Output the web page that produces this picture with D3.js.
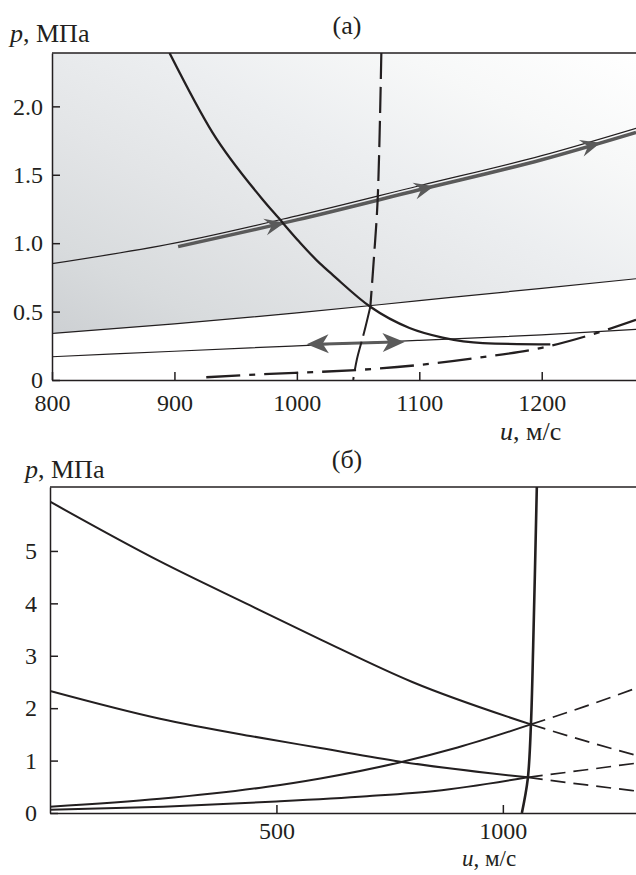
<!DOCTYPE html>
<html>
<head>
<meta charset="utf-8">
<script src="https://cdn.jsdelivr.net/npm/d3@7"></script>
<style>
body { margin: 0; background: #fff; }
svg text { font-family: "Liberation Serif", "Times New Roman", serif; fill: #231f20; font-size: 24px; }
svg text.lbl { font-size: 26px; }
svg text.lbl.small { font-size: 23px; }
</style>
</head>
<body>
<svg id="chart" width="636" height="875"></svg>
<script>
// ---- panel (a) ----
const ticksUa = [800, 900, 1000, 1100, 1200];
const ticksPa = [0, 0.5, 1.0, 1.5, 2.0];
const upperThin = [[800, 0.85], [900, 1.0], [1000, 1.2], [1100, 1.42], [1200, 1.64], [1277, 1.84]];
const grayTrack = [[903, 0.975], [1000, 1.17], [1100, 1.39], [1200, 1.61], [1277, 1.81]];
const grayArrows = [990, 1112, 1248];
const lowerBound = [[800, 0.34], [900, 0.41], [1000, 0.49], [1100, 0.58], [1200, 0.67], [1277, 0.74]];
const lowestThin = [[800, 0.17], [900, 0.21], [1000, 0.25], [1100, 0.29], [1200, 0.33], [1277, 0.37]];
const doubleArrow = [[1008, 0.262], [1088, 0.278]];
const shockCurve = [[896, 2.39], [931, 1.81], [972, 1.32], [985, 1.185], [1002, 1.01], [1019, 0.85],
                    [1029, 0.77], [1060, 0.535], [1092, 0.38], [1119, 0.31], [1152, 0.27], [1207, 0.26]];
const dashedUpper = [[1069, 2.39], [1066, 1.32], [1063, 0.9], [1060, 0.535]];
const dashedLower = [[1060, 0.535], [1055, 0.35], [1049, 0.15], [1046, 0]];
const dashDot = [[926, 0.02], [978, 0.045], [1020, 0.06], [1061, 0.08], [1100, 0.11], [1150, 0.165],
                 [1200, 0.235], [1240, 0.33], [1277, 0.44]];

// ---- panel (б) ----
const ticksUb = [500, 1000];
const ticksPb = [0, 1, 2, 3, 4, 5];
const curveA = [[0, 5.94], [243, 4.8], [442, 3.96], [600, 3.3], [800, 2.5], [1062, 1.69]];
const curveAext = [[1062, 1.69], [1180, 1.38], [1294, 1.1]];
const curveB = [[0, 2.33], [243, 1.8], [442, 1.47], [597, 1.24], [774, 0.98], [1055, 0.68]];
const curveBext = [[1055, 0.68], [1180, 0.54], [1294, 0.42]];
const curveC = [[0, 0.12], [243, 0.27], [480, 0.5], [597, 0.66], [774, 0.97], [900, 1.25], [1062, 1.69]];
const curveCext = [[1062, 1.69], [1180, 2.03], [1294, 2.38]];
const curveD = [[0, 0.06], [250, 0.12], [500, 0.22], [700, 0.32], [850, 0.42], [1055, 0.68]];
const curveDext = [[1055, 0.68], [1180, 0.82], [1294, 0.95]];
const vertCurve = [[1042, 0], [1055, 0.65], [1062, 1.69], [1067, 3.2], [1075, 6.22]];

const ink = '#231f20';
const grey = '#5a5a5a';
const svg = d3.select('#chart');
const defs = svg.append('defs');

const grad = defs.append('linearGradient')
    .attr('id', 'shade')
    .attr('gradientUnits', 'userSpaceOnUse')
    .attr('x1', -136).attr('y1', 268)
    .attr('x2', 109).attr('y2', -215);
[[0.05, '#cdd0d3'], [0.2, '#d8dbdd'], [0.4, '#e3e5e7'], [0.6, '#eceef0'], [0.8, '#f7f8f8'], [1, '#ffffff']]
    .forEach(s => grad.append('stop').attr('offset', s[0]).attr('stop-color', s[1]));

function clip(id, x0, y0, x1, y1) {
    defs.append('clipPath').attr('id', id)
        .append('rect').attr('x', x0).attr('y', y0).attr('width', x1 - x0).attr('height', y1 - y0);
}

function axes(g, x, y, tx, ty, fmtY, padX, padY) {
    const [x0, x1] = x.range();
    const [yb, yt] = y.range();
    const ax = g.append('g')
        .attr('transform', 'translate(0,' + yb + ')')
        .call(d3.axisBottom(x).tickValues(tx).tickSize(-8).tickSizeOuter(0).tickPadding(padX).tickFormat(d3.format('d')));
    const ay = g.append('g')
        .attr('transform', 'translate(' + x0 + ',0)')
        .call(d3.axisLeft(y).tickValues(ty).tickSize(-8).tickSizeOuter(0).tickPadding(padY).tickFormat(fmtY));
    [ax, ay].forEach(a => {
        a.attr('font-size', null).attr('font-family', null);
        a.selectAll('path, line').attr('stroke', ink).attr('stroke-width', 1.5);
    });
    g.append('line')
        .attr('x1', x0).attr('x2', x1).attr('y1', yt).attr('y2', yt)
        .attr('stroke', ink).attr('stroke-width', 1.5);
}

function arrowHead(g, px, py, angle, len, half, notch) {
    g.append('path')
        .attr('d', 'M0,0L' + (-len) + ',' + (-half) + 'L' + (-notch) + ',0L' + (-len) + ',' + half + 'Z')
        .attr('transform', 'translate(' + px + ',' + py + ') rotate(' + angle + ')')
        .attr('fill', grey);
}

// ===== panel (a) =====
const xa = d3.scaleLinear().domain([800, 1277]).range([52, 636]);
const ya = d3.scaleLinear().domain([0, 2.39]).range([380, 53]);
clip('clipA', 52, 53, 636, 380);

const lineA = d3.line().x(d => xa(d[0])).y(d => ya(d[1])).curve(d3.curveMonotoneX);
const lineAv = d3.line().x(d => xa(d[0])).y(d => ya(d[1])).curve(d3.curveCatmullRom);

const ga = svg.append('g').attr('clip-path', 'url(#clipA)');

ga.append('path')
    .datum(lowerBound)
    .attr('d', d3.area().x(d => xa(d[0])).y0(d => ya(d[1])).y1(ya(2.39)).curve(d3.curveMonotoneX))
    .attr('fill', 'url(#shade)');

[upperThin, lowerBound, lowestThin].forEach(s => {
    ga.append('path').datum(s).attr('d', lineA)
        .attr('fill', 'none').attr('stroke', ink).attr('stroke-width', 1.2);
});

// grey trajectory with arrows
ga.append('path').datum(grayTrack).attr('d', lineA)
    .attr('fill', 'none').attr('stroke', grey).attr('stroke-width', 3.5);
const trackP = d3.scaleLinear().domain(grayTrack.map(d => d[0])).range(grayTrack.map(d => d[1]));
grayArrows.forEach(u => {
    const a = [xa(u - 5), ya(trackP(u - 5))];
    const b = [xa(u + 5), ya(trackP(u + 5))];
    const ang = Math.atan2(b[1] - a[1], b[0] - a[0]) * 180 / Math.PI;
    arrowHead(ga, xa(u), ya(trackP(u)), ang, 20, 8.5, 13);
});

// double arrow
const da = doubleArrow.map(d => [xa(d[0]), ya(d[1])]);
const daAng = Math.atan2(da[1][1] - da[0][1], da[1][0] - da[0][0]) * 180 / Math.PI;
ga.append('line')
    .attr('x1', da[0][0] + 10).attr('y1', da[0][1]).attr('x2', da[1][0] - 10).attr('y2', da[1][1])
    .attr('stroke', grey).attr('stroke-width', 3);
arrowHead(ga, da[1][0], da[1][1], daAng, 22, 9.5, 16);
arrowHead(ga, da[0][0], da[0][1], daAng + 180, 22, 9.5, 16);

ga.append('path').datum(shockCurve).attr('d', lineA)
    .attr('fill', 'none').attr('stroke', ink).attr('stroke-width', 2.3);

ga.append('path').datum(dashedUpper).attr('d', lineAv)
    .attr('fill', 'none').attr('stroke', ink).attr('stroke-width', 2.2)
    .attr('stroke-dasharray', '26,8');
ga.append('path').datum(dashedLower).attr('d', lineAv)
    .attr('fill', 'none').attr('stroke', ink).attr('stroke-width', 2)
    .attr('stroke-dasharray', '30,6');

ga.append('path').datum(dashDot).attr('d', lineA)
    .attr('fill', 'none').attr('stroke', ink).attr('stroke-width', 2.3)
    .attr('stroke-dasharray', '34,9,6,9');

axes(svg.append('g'), xa, ya, ticksUa, ticksPa, d => d === 0 ? '0' : d3.format('.1f')(d), 14, 9);

const tpa = svg.append('text').attr('class', 'lbl').attr('x', 10).attr('y', 42);
tpa.append('tspan').attr('font-style', 'italic').text('p');
tpa.append('tspan').text(', МПа');
svg.append('text').attr('class', 'lbl').attr('x', 347).attr('y', 34).attr('text-anchor', 'middle').text('(а)');
const tua = svg.append('text').attr('class', 'lbl').attr('x', 500).attr('y', 440);
tua.append('tspan').attr('font-style', 'italic').text('u');
tua.append('tspan').text(', м/с');

// ===== panel (б) =====
const xb = d3.scaleLinear().domain([0, 1294]).range([50, 636]);
const yb = d3.scaleLinear().domain([0, 6.22]).range([813, 487]);
clip('clipB', 50, 487, 636, 813);

const lineB = d3.line().x(d => xb(d[0])).y(d => yb(d[1])).curve(d3.curveMonotoneX);
const lineBv = d3.line().x(d => xb(d[0])).y(d => yb(d[1])).curve(d3.curveCatmullRom);

const gb = svg.append('g').attr('clip-path', 'url(#clipB)');
[curveA, curveB, curveC, curveD].forEach(s => {
    gb.append('path').datum(s).attr('d', lineB)
        .attr('fill', 'none').attr('stroke', ink).attr('stroke-width', 2);
});
[curveAext, curveBext, curveCext, curveDext].forEach(s => {
    gb.append('path').datum(s).attr('d', lineB)
        .attr('fill', 'none').attr('stroke', ink).attr('stroke-width', 1.7)
        .attr('stroke-dasharray', '15,8');
});
gb.append('path').datum(vertCurve).attr('d', lineBv)
    .attr('fill', 'none').attr('stroke', ink).attr('stroke-width', 2.6);

axes(svg.append('g'), xb, yb, ticksUb, ticksPb, d3.format('d'), 9, 13);

const tpb = svg.append('text').attr('class', 'lbl').attr('x', 25).attr('y', 478);
tpb.append('tspan').attr('font-style', 'italic').text('p');
tpb.append('tspan').text(', МПа');
svg.append('text').attr('class', 'lbl').attr('x', 347).attr('y', 468).attr('text-anchor', 'middle').text('(б)');
const tub = svg.append('text').attr('class', 'lbl small').attr('x', 462).attr('y', 866);
tub.append('tspan').attr('font-style', 'italic').text('u');
tub.append('tspan').text(', м/с');
</script>
</body>
</html>
